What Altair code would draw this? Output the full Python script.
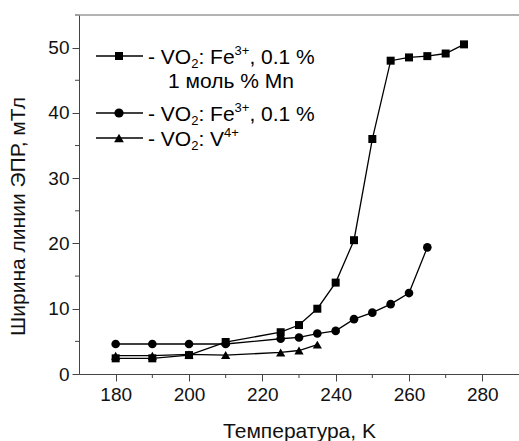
import altair as alt
import pandas as pd

# EPR linewidth vs temperature for three VO2 samples
temp_mn = [180, 190, 200, 210, 225, 230, 235, 240, 245, 250, 255, 260, 265, 270, 275]
width_mn = [2.4, 2.4, 2.9, 4.9, 6.4, 7.5, 10.0, 14.0, 20.5, 36.0, 48.0, 48.5, 48.7, 49.1, 50.5]

temp_fe = [180, 190, 200, 210, 225, 230, 235, 240, 245, 250, 255, 260, 265]
width_fe = [4.6, 4.6, 4.6, 4.6, 5.4, 5.6, 6.2, 6.6, 8.4, 9.4, 10.7, 12.4, 19.4]

temp_v = [180, 190, 200, 210, 225, 230, 235]
width_v = [2.8, 2.8, 3.0, 2.9, 3.3, 3.6, 4.5]

series_names = ["Fe+Mn", "Fe", "V"]
x_major = [180, 200, 220, 240, 260, 280]
x_minor = [190, 210, 230, 250, 270]
y_major = [0, 10, 20, 30, 40, 50]
y_minor = [5, 15, 25, 35, 45, 55]

FONT = "Liberation Sans"
W, H = 440, 359
X_DOMAIN = [170, 290]
Y_DOMAIN = [0, 55]

frames = []
for name, t, w in zip(series_names, [temp_mn, temp_fe, temp_v], [width_mn, width_fe, width_v]):
    frames.append(pd.DataFrame({"T": t, "w": w, "series": name}))
df = pd.concat(frames, ignore_index=True)

x_scale = alt.Scale(domain=X_DOMAIN, nice=False, zero=False)
y_scale = alt.Scale(domain=Y_DOMAIN, nice=False, zero=False)

x_enc = alt.X(
    "T:Q",
    scale=x_scale,
    axis=alt.Axis(
        values=x_major,
        format="d",
        title="Температура, K",
        titleFontSize=21,
        titleFont=FONT,
        titleFontWeight="normal",
        titleColor="#111",
        titleBaseline="alphabetic",
        titleY=63,
        labelFontSize=19,
        labelFont=FONT,
        labelColor="#111",
        labelPadding=4,
        tickSize=7,
        tickColor="#444",
        domainColor="#444",
        grid=False,
    ),
)
y_enc = alt.Y(
    "w:Q",
    scale=y_scale,
    axis=alt.Axis(
        values=y_major,
        format="d",
        title="Ширина линии ЭПР, мТл",
        titleFontSize=21,
        titleFont=FONT,
        titleFontWeight="normal",
        titleColor="#111",
        titleAngle=270,
        titleAlign="center",
        titleBaseline="middle",
        titleX=-61,
        titleY=201,
        labelFontSize=19,
        labelFont=FONT,
        labelColor="#111",
        labelPadding=3,
        tickSize=7,
        tickColor="#444",
        domainColor="#444",
        grid=False,
    ),
)

shape_scale = alt.Scale(domain=series_names, range=["square", "circle", "triangle-up"])
size_scale = alt.Scale(domain=series_names, range=[64, 85, 95])

lines = alt.Chart(df).mark_line(color="black", strokeWidth=1.3).encode(
    x=x_enc, y=y_enc, detail="series:N"
)
points = alt.Chart(df).mark_point(filled=True, color="black", opacity=1).encode(
    x=alt.X("T:Q", scale=x_scale),
    y=alt.Y("w:Q", scale=y_scale),
    shape=alt.Shape("series:N", scale=shape_scale, legend=None),
    size=alt.Size("series:N", scale=size_scale, legend=None),
)

# minor ticks
minor_x = alt.Chart(pd.DataFrame({"T": x_minor})).mark_rule(color="#444", strokeWidth=1).encode(
    x=alt.X("T:Q", scale=x_scale), y=alt.value(H), y2=alt.value(H + 4)
)
minor_y = alt.Chart(pd.DataFrame({"w": y_minor})).mark_rule(color="#444", strokeWidth=1).encode(
    y=alt.Y("w:Q", scale=y_scale), x=alt.value(-4), x2=alt.value(0)
)

one = pd.DataFrame({"a": [0]})

# top frame line
top_line = alt.Chart(one).mark_rule(color="#666", strokeWidth=1).encode(
    x=alt.value(0), x2=alt.value(W), y=alt.value(0)
)


def label(x, y, s, size, align="left"):
    return alt.Chart(one).mark_text(
        text=s, fontSize=size, font=FONT, align=align, baseline="alphabetic", color="black"
    ).encode(x=alt.value(x), y=alt.value(y))


def key(y, shape, size):
    seg = alt.Chart(one).mark_rule(color="black", strokeWidth=1.3).encode(
        x=alt.value(17), x2=alt.value(64), y=alt.value(y)
    )
    mk = alt.Chart(one).mark_point(
        shape=shape, filled=True, color="black", opacity=1, size=size
    ).encode(x=alt.value(40), y=alt.value(y))
    return [seg, mk]


def vo2_label(x, base_y, element, charge, tail):
    """'- VO2: <element><charge><tail>' built from pieces so the 2 and the charge sit low/high."""
    F, S = 21, 13
    parts = [label(x, base_y, "- VO", F)]
    x += 2.056 * F
    parts.append(label(x, base_y + 4, "2", S))
    x += 0.556 * S
    head = ": " + element
    parts.append(label(x, base_y, head, F))
    widths = {"F": 0.611, "e": 0.556, "V": 0.667}
    x += (0.556 + sum(widths[c] for c in element)) * F
    parts.append(label(x, base_y - 9, charge, S))
    x += 1.14 * S
    if tail:
        parts.append(label(x, base_y, tail, F))
    return parts


legend = []
legend += key(41, "square", 64)
legend += vo2_label(69, 48.5, "Fe", "3+", ", 0.1 %")
legend.append(label(152, 73, "1 моль % Mn", 21, align="center"))

legend += key(98, "circle", 85)
legend += vo2_label(69, 105.5, "Fe", "3+", ", 0.1 %")

legend += key(123, "triangle-up", 95)
legend += vo2_label(69, 130.5, "V", "4+", "")

chart = alt.layer(lines, points, minor_x, minor_y, top_line, *legend).properties(
    width=W,
    height=H,
    padding={"left": 79, "top": 15, "right": 0, "bottom": 67},
    autosize=alt.AutoSizeParams(type="none"),
    background="white",
).configure_view(strokeWidth=0)

chart.save("out.html", embed_options={"renderer": "svg", "actions": False})
